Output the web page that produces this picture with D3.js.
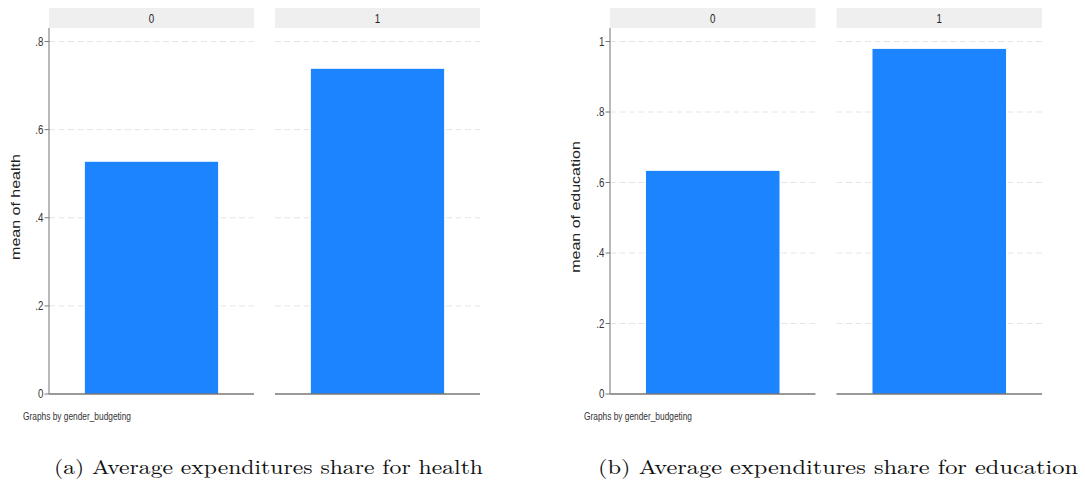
<!DOCTYPE html>
<html>
<head>
<meta charset="utf-8">
<script src="https://cdn.jsdelivr.net/npm/d3@7"></script>
<style>
  html, body { margin: 0; padding: 0; background: #fff; }
  svg { display: block; }
</style>
</head>
<body>
<svg id="chart" width="1085" height="489"></svg>
<script>
// Mean expenditure shares by gender budgeting status (0 = no, 1 = yes)
const groups = ["0", "1"];
const healthMeans = [0.527, 0.738];
const educationMeans = [0.633, 0.979];
const healthTicks = [0, 0.2, 0.4, 0.6, 0.8];
const educationTicks = [0, 0.2, 0.4, 0.6, 0.8, 1];
const healthTickLabels = ["0", ".2", ".4", ".6", ".8"];
const educationTickLabels = ["0", ".2", ".4", ".6", ".8", "1"];
const noteText = "Graphs by gender_budgeting";
const captions = ["(a) Average expenditures share for health", "(b) Average expenditures share for education"];
const yTitles = ["mean of health", "mean of education"];

const svg = d3.select("#chart");
const sx = 0.78; // horizontal squeeze of the Stata-style labels
const sansFont = "'Liberation Sans', Arial, sans-serif";

function drawPanelChart(opts) {
  const g = svg.append("g");
  const plotTop = 28, plotBottom = 394, stripTop = 8;
  const ticks = opts.ticks;
  const y = d3.scaleLinear()
    .domain([0, ticks[ticks.length - 1]])
    .range([plotBottom, 41.5]);
  const panels = d3.scaleBand()
    .domain(groups)
    .range([opts.x0, opts.x1])
    .paddingInner(0.093)
    .paddingOuter(0);
  const bw = panels.bandwidth();

  groups.forEach((grp, i) => {
    const px = panels(grp);
    const p = g.append("g");

    // strip header
    p.append("rect")
      .attr("x", px).attr("y", stripTop)
      .attr("width", bw).attr("height", plotTop - stripTop)
      .attr("fill", "#efefef");
    p.append("text")
      .attr("transform", `translate(${px + bw / 2},${(stripTop + plotTop) / 2 + 4.5}) scale(${sx},1)`)
      .attr("text-anchor", "middle")
      .attr("font-family", sansFont)
      .attr("font-size", 12.5)
      .attr("fill", "#222")
      .text(grp);

    // dashed gridlines
    p.selectAll("line.grid")
      .data(ticks.filter(t => t > 0))
      .join("line")
      .attr("class", "grid")
      .attr("x1", px).attr("x2", px + bw)
      .attr("y1", d => y(d)).attr("y2", d => y(d))
      .attr("stroke", "#e6e6e6")
      .attr("stroke-width", 1)
      .attr("stroke-dasharray", "6,3.5");

    // bar
    const barX = d3.scaleBand().domain([grp]).range([px, px + bw]).paddingInner(0.35).paddingOuter(0.175);
    p.append("rect")
      .attr("x", barX(grp))
      .attr("y", y(opts.values[i]))
      .attr("width", barX.bandwidth())
      .attr("height", y(0) - y(opts.values[i]))
      .attr("fill", "#1c84fe");

    // baseline
    p.append("line")
      .attr("x1", px).attr("x2", px + bw)
      .attr("y1", plotBottom).attr("y2", plotBottom)
      .attr("stroke", "#777")
      .attr("stroke-width", 1.6);
  });

  // left y axis
  const x0 = panels(groups[0]);
  const axis = g.append("g");
  axis.append("line")
    .attr("x1", x0).attr("x2", x0)
    .attr("y1", plotTop).attr("y2", plotBottom)
    .attr("stroke", "#8a8a8a").attr("stroke-width", 1.2);
  axis.selectAll("line.tick")
    .data(ticks)
    .join("line")
    .attr("class", "tick")
    .attr("x1", x0 - 4.5).attr("x2", x0)
    .attr("y1", d => y(d)).attr("y2", d => y(d))
    .attr("stroke", "#777").attr("stroke-width", 1);
  axis.selectAll("text.tick")
    .data(ticks)
    .join("text")
    .attr("class", "tick")
    .attr("transform", d => `translate(${x0 - 5.5},${y(d) + 4}) scale(${sx},1)`)
    .attr("text-anchor", "end")
    .attr("font-family", sansFont)
    .attr("font-size", 12.5)
    .attr("fill", "#333")
    .text((d, i) => opts.tickLabels[i]);

  // y title
  g.append("text")
    .attr("transform", `translate(${opts.titleX},207) rotate(-90) scale(1,0.82)`)
    .attr("text-anchor", "middle")
    .attr("font-family", sansFont)
    .attr("font-size", 16)
    .attr("fill", "#222")
    .text(opts.yTitle);

  // note
  g.append("text")
    .attr("transform", `translate(${opts.noteX},419.5) scale(${sx},1)`)
    .attr("font-family", sansFont)
    .attr("font-size", 10.8)
    .attr("fill", "#333")
    .attr("textLength", 108 / sx)
    .attr("lengthAdjust", "spacingAndGlyphs")
    .text(noteText);

  // caption
  g.append("text")
    .attr("x", opts.capX0)
    .attr("y", 474)
    .attr("font-family", "'Latin Modern Roman', 'DejaVu Serif', 'Liberation Serif', serif")
    .attr("font-size", 20)
    .attr("fill", "#111")
    .attr("textLength", opts.capX1 - opts.capX0)
    .attr("lengthAdjust", "spacingAndGlyphs")
    .text(opts.caption);
}

drawPanelChart({
  x0: 49, x1: 480, values: healthMeans, ticks: healthTicks, tickLabels: healthTickLabels,
  yTitle: yTitles[0], titleX: 20, noteX: 23, caption: captions[0], capX0: 54, capX1: 483
});
drawPanelChart({
  x0: 610, x1: 1042, values: educationMeans, ticks: educationTicks, tickLabels: educationTickLabels,
  yTitle: yTitles[1], titleX: 580, noteX: 584, caption: captions[1], capX0: 598, capX1: 1078
});
</script>
</body>
</html>
